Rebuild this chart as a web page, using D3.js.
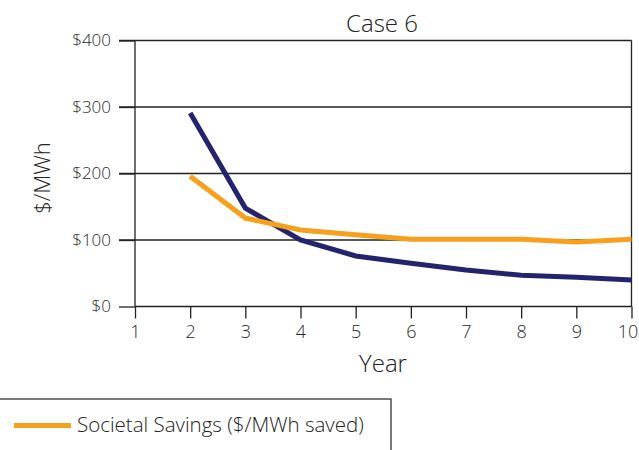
<!DOCTYPE html>
<html><head><meta charset="utf-8">
<script src="https://cdn.jsdelivr.net/npm/d3@7"></script>
<style>body{margin:0;background:#fff}svg{display:block}</style>
</head><body>
<script>
const years = [1,2,3,4,5,6,7,8,9,10];
const yTicks = [0,100,200,300,400];
const seriesNames = ["Utility Cost ($/MWh saved)", "Societal Savings ($/MWh saved)"];
const costValues = [null,291,148,100,76,65,55,47,44,40];
const savingsValues = [null,196,133,115,108,101,101,101,97,101];
const colors = ["#23236e", "#f7a01e"];

const W = 639, H = 450;
const m = {left:135, right:631.5, top:40.5, bottom:306.5};
const font = "'Open Sans', sans-serif";
const svg = d3.select("body").append("svg").attr("width", W).attr("height", H);

const x = d3.scaleLinear().domain([1,10]).range([m.left, m.right]);
const y = d3.scaleLinear().domain([0,400]).range([m.bottom, m.top]);

// gridlines
svg.append("g").selectAll("line").data(yTicks.filter(d=>d>0)).join("line")
  .attr("x1", 119).attr("x2", m.right).attr("y1", d=>y(d)).attr("y2", d=>y(d))
  .attr("stroke", "#222").attr("stroke-width", 1.3);

// y axis
const yAxis = svg.append("g").attr("transform", `translate(${m.left},0)`)
  .call(d3.axisLeft(y).tickValues(yTicks).tickSize(16).tickPadding(8).tickFormat(d=>"$"+d));
yAxis.select(".domain").attr("stroke", "#222").attr("stroke-width", 1.3).attr("d", `M0,${m.top}V${m.bottom}`);
yAxis.selectAll(".tick line").attr("stroke", "#222").attr("stroke-width", 1.3);
yAxis.selectAll("text").attr("font-family", font).attr("font-size", 17).attr("fill", "#2a2a2a").attr("font-weight", 300);

// x axis
const xAxis = svg.append("g").attr("transform", `translate(0,${m.bottom})`)
  .call(d3.axisBottom(x).tickValues(years).tickSize(12).tickPadding(7).tickFormat(d3.format("d")));
xAxis.select(".domain").attr("stroke", "#222").attr("stroke-width", 1.3).attr("d", `M${m.left},0H${m.right}`);
xAxis.selectAll(".tick line").attr("stroke", "#222").attr("stroke-width", 1.3);
xAxis.selectAll("text").attr("font-family", font).attr("font-size", 18).attr("fill", "#2a2a2a").attr("font-weight", 300)
  .attr("dx", d => d === 10 ? -4 : 0);

// right border
svg.append("line").attr("x1", m.right).attr("x2", m.right).attr("y1", m.top).attr("y2", m.bottom)
  .attr("stroke", "#222").attr("stroke-width", 1.3);

// lines
const line = d3.line().defined(d=>d[1]!=null).x(d=>x(d[0])).y(d=>y(d[1]));
[costValues, savingsValues].forEach((vals,i)=>{
  svg.append("path").datum(years.map((yr,j)=>[yr, vals[j]]))
    .attr("d", line).attr("fill", "none").attr("stroke", colors[i]).attr("stroke-width", 5)
    .attr("stroke-linejoin", "miter");
});

// title
svg.append("text").attr("x", 382).attr("y", 32).attr("text-anchor", "middle")
  .attr("font-family", font).attr("font-size", 24).attr("fill", "#222").attr("font-weight", 300).text("Case 6");
// axis titles
svg.append("text").attr("x", 383).attr("y", 372).attr("text-anchor", "middle")
  .attr("font-family", font).attr("font-size", 24).attr("fill", "#222").attr("font-weight", 300).text("Year");
svg.append("text").attr("transform", "translate(50,178) rotate(-90)").attr("text-anchor", "middle")
  .attr("font-family", font).attr("font-size", 22).attr("fill", "#222").attr("font-weight", 300).text("$/MWh");

// legend
svg.append("rect").attr("x", -2).attr("y", 399).attr("width", 393).attr("height", 70)
  .attr("fill", "none").attr("stroke", "#333").attr("stroke-width", 1.3);
svg.append("line").attr("x1", 14).attr("x2", 71).attr("y1", 425.5).attr("y2", 425.5)
  .attr("stroke", colors[1]).attr("stroke-width", 5);
svg.append("text").attr("x", 77).attr("y", 432).attr("font-family", font).attr("font-size", 20.5)
  .attr("fill", "#222").attr("font-weight", 300).text(seriesNames[1]);
</script>
</body></html>
